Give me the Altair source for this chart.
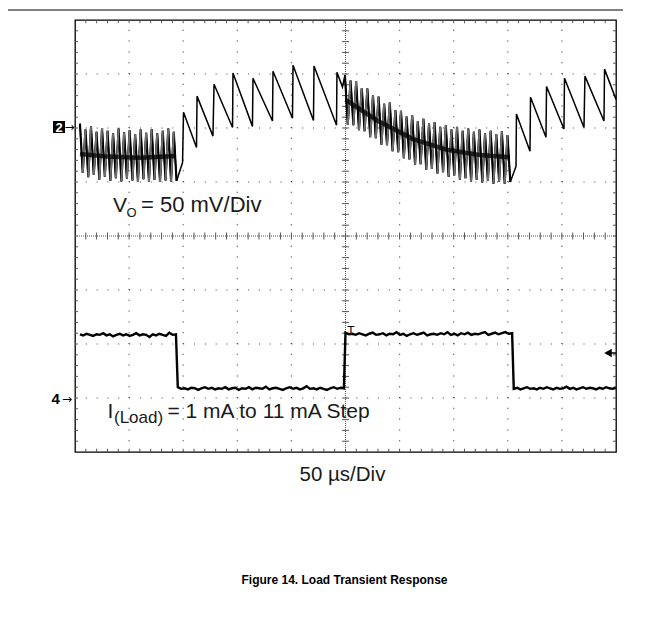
import altair as alt
import pandas as pd

# ---------------- data: time in µs (50 µs/div), amplitude in screen divisions ----------------
# V_O ripple bursts (light load): per-cycle envelope tops / bottoms
left_start_us = 4.6
left_stroke_us = 2.55
left_tops = [6.08, 5.97, 6.03, 5.93, 6.00, 5.95, 5.90, 5.99, 5.92, 5.96, 5.89, 5.97,
             5.91, 5.98, 5.90, 5.95, 5.99, 5.93]
left_bottoms = [5.17, 5.09, 5.13, 5.04, 5.10, 5.02, 5.07, 5.01, 5.06, 5.03, 5.00, 5.05,
                5.01, 5.04, 5.00, 5.03, 5.01, 5.02]

mid_start_us = 249.5
mid_stroke_us = 2.59
mid_tops = [6.98, 6.88, 6.86, 6.74, 6.73, 6.60, 6.58, 6.45, 6.47, 6.33, 6.32, 6.21,
            6.24, 6.13, 6.17, 6.08, 6.11, 6.02, 6.05, 5.97, 6.02, 5.95, 5.99, 5.93,
            5.97, 5.90, 5.95, 5.89, 5.94, 5.87]
mid_bottoms = [6.06, 6.05, 5.96, 5.94, 5.83, 5.81, 5.69, 5.68, 5.57, 5.55, 5.44, 5.42,
               5.32, 5.33, 5.23, 5.24, 5.16, 5.18, 5.10, 5.12, 5.04, 5.07, 5.01, 5.04,
               4.99, 5.02, 4.97, 5.01, 4.97, 5.00]

# dense centre of the bursts
left_center_t = [4.6, 30.0, 60.0, 93.0]
left_center_v = [5.52, 5.47, 5.45, 5.48]
mid_center_t = [250.0, 281.0, 312.0, 343.0, 374.0, 402.0]
mid_center_v = [6.52, 6.12, 5.80, 5.60, 5.50, 5.46]

# V_O sawtooth (heavy load) vertices
saw1_t = [99.4, 100.3, 112.3, 112.8, 127.5, 128.5, 145.6, 146.0, 164.0, 164.5, 182.5,
          183.0, 201.0, 201.5, 220.4, 220.9, 241.7, 242.1, 247.2]
saw1_v = [5.36, 6.29, 5.64, 6.59, 5.85, 6.81, 6.01, 7.02, 6.03, 6.92, 6.13, 7.05, 6.18,
          7.16, 6.14, 7.15, 6.05, 7.03, 6.76]
saw2_t = [407.6, 408.0, 420.5, 421.0, 435.3, 435.8, 451.9, 452.4, 470.4, 471.3, 488.9,
          489.4, 500.0]
saw2_v = [5.29, 6.26, 5.57, 6.57, 5.83, 6.77, 5.98, 6.92, 6.01, 6.96, 6.13, 7.09, 6.53]

# Load current trace: flat segments (start µs, end µs) with the samples read along them
high1_span = (4.6, 93.3)
high1_vals = [2.18, 2.16, 2.19, 2.17, 2.15, 2.18, 2.17, 2.20, 2.16, 2.18, 2.14, 2.17,
              2.19, 2.16, 2.18, 2.15, 2.17, 2.20, 2.16, 2.18, 2.17, 2.13, 2.18, 2.16,
              2.19, 2.17, 2.15, 2.21, 2.17, 2.18]
low1_span = (95.0, 248.5)
low1_vals = [1.20, 1.17, 1.18, 1.16, 1.19, 1.18, 1.15, 1.18, 1.20, 1.17, 1.19, 1.16,
             1.18, 1.17, 1.20, 1.16, 1.18, 1.19, 1.15, 1.18, 1.17, 1.20, 1.16, 1.19,
             1.18, 1.17, 1.21, 1.16, 1.18, 1.19, 1.17, 1.15, 1.18, 1.20, 1.17, 1.19,
             1.16, 1.18, 1.22, 1.17, 1.18, 1.16, 1.19, 1.17, 1.15, 1.18, 1.20, 1.17,
             1.19, 1.18]
high2_span = (250.0, 404.0)
high2_vals = [2.21, 2.18, 2.19, 2.17, 2.20, 2.18, 2.16, 2.19, 2.21, 2.17, 2.18, 2.20,
              2.16, 2.19, 2.18, 2.22, 2.17, 2.19, 2.15, 2.18, 2.20, 2.17, 2.19, 2.21,
              2.16, 2.18, 2.19, 2.17, 2.20, 2.18, 2.22, 2.17, 2.19, 2.16, 2.20, 2.18,
              2.21, 2.17, 2.19, 2.18, 2.20, 2.22, 2.17, 2.19, 2.21, 2.18, 2.20, 2.22,
              2.19, 2.20]
low2_span = (405.5, 500.0)
low2_vals = [1.17, 1.19, 1.16, 1.18, 1.20, 1.17, 1.18, 1.16, 1.19, 1.17, 1.20, 1.18,
             1.16, 1.19, 1.17, 1.18, 1.21, 1.17, 1.19, 1.16, 1.18, 1.20, 1.17, 1.19,
             1.18, 1.16, 1.19, 1.17, 1.20, 1.18, 1.17, 1.19]

# graticule (10 x 8 divisions)
major_t = [50, 100, 150, 200, 300, 350, 400, 450]
major_v = [1, 2, 3, 5, 6, 7]

# ---------------- build tables ----------------
def ripple(start, stroke, tops, bottoms):
    pts = []
    for i, (a, b) in enumerate(zip(tops, bottoms)):
        pts.append((start + 2 * i * stroke, a))
        pts.append((start + (2 * i + 1) * stroke, b))
    return pts


def samples(span, vals):
    a, b = span
    n = len(vals)
    return [(a + (b - a) * k / (n - 1), v) for k, v in enumerate(vals)]


def frame(pts, group="a"):
    return pd.DataFrame({"t": [p[0] for p in pts], "v": [p[1] for p in pts],
                         "i": range(len(pts)), "g": group})


left_pts = ripple(left_start_us, left_stroke_us, left_tops, left_bottoms)
mid_pts = ripple(mid_start_us, mid_stroke_us, mid_tops, mid_bottoms)
vo_pts = left_pts + list(zip(saw1_t, saw1_v)) + mid_pts + list(zip(saw2_t, saw2_v))
vo = frame(vo_pts)
bursts = pd.concat([frame(left_pts, "a"), frame(mid_pts, "b")], ignore_index=True)

up_rows = []
for pts in (left_pts, mid_pts):
    for k in range(1, len(pts) - 1, 2):
        up_rows.append({"t": pts[k][0], "v": pts[k][1], "t2": pts[k + 1][0], "v2": pts[k + 1][1]})
up = pd.DataFrame(up_rows)

centers = pd.DataFrame({"t": left_center_t + mid_center_t,
                        "v": left_center_v + mid_center_v,
                        "g": ["a"] * len(left_center_t) + ["b"] * len(mid_center_t)})

cur_pts = (samples(high1_span, high1_vals) + samples(low1_span, low1_vals)
           + samples(high2_span, high2_vals) + samples(low2_span, low2_vals))
cur = frame(cur_pts)

vgrid = pd.DataFrame({"t": major_t, "v": 0, "t2": major_t, "v2": 8})
hgrid = pd.DataFrame({"t": 0, "v": major_v, "t2": 500, "v2": major_v})
center_lines = pd.DataFrame({"t": [250, 0], "v": [0, 4], "t2": [250, 500], "v2": [8, 4]})

minor_t = [10 * k for k in range(1, 50)]
minor_v = [0.2 * k for k in range(1, 40)]
tick_rows = []
for t in minor_t:
    tick_rows.append({"t": t, "v": 4 - 0.065, "t2": t, "v2": 4 + 0.065})
    tick_rows.append({"t": t, "v": 8, "t2": t, "v2": 8 - 0.06})
    tick_rows.append({"t": t, "v": 0, "t2": t, "v2": 0.06})
for v in minor_v:
    tick_rows.append({"t": 250 - 3.2, "v": v, "t2": 250 + 3.2, "v2": v})
    tick_rows.append({"t": 0, "v": v, "t2": 2.8, "v2": v})
    tick_rows.append({"t": 500, "v": v, "t2": 497.2, "v2": v})
ticks = pd.DataFrame(tick_rows)

one = pd.DataFrame({"k": [0]})

# ---------------- encodings ----------------
xs = alt.Scale(domain=[0, 500], nice=False, zero=False)
ys = alt.Scale(domain=[0, 8], nice=False, zero=False)
X = alt.X("t:Q", scale=xs, axis=None)
Y = alt.Y("v:Q", scale=ys, axis=None)
X2 = alt.X2("t2:Q")
Y2 = alt.Y2("v2:Q")

FONT = "Liberation Sans"
INK = "#1a1a1a"

layers = []
layers.append(alt.Chart(vgrid).mark_rule(color="#444", strokeWidth=1.2, strokeDash=[1, 9.8])
              .encode(x=X, y=Y, x2=X2, y2=Y2))
layers.append(alt.Chart(hgrid).mark_rule(color="#444", strokeWidth=1.2, strokeDash=[1, 9.82])
              .encode(x=X, y=Y, x2=X2, y2=Y2))
layers.append(alt.Chart(center_lines).mark_rule(color="#555", strokeWidth=1, strokeDash=[1, 1])
              .encode(x=X, y=Y, x2=X2, y2=Y2))
layers.append(alt.Chart(ticks).mark_rule(color="#555", strokeWidth=1)
              .encode(x=X, y=Y, x2=X2, y2=Y2))

# V_O trace
layers.append(alt.Chart(vo).mark_line(color="black", strokeWidth=1.5)
              .encode(x=X, y=Y, order="i:Q"))
layers.append(alt.Chart(bursts).mark_line(color="black", strokeWidth=2.1)
              .encode(x=X, y=Y, order="i:Q", detail="g:N"))
layers.append(alt.Chart(up).mark_rule(color="#6e6e6e", strokeWidth=2.0)
              .encode(x=X, y=Y, x2=X2, y2=Y2))
layers.append(alt.Chart(centers).mark_line(color="black", strokeWidth=4.5, opacity=0.75)
              .encode(x=X, y=Y, detail="g:N"))
# load current trace
layers.append(alt.Chart(cur).mark_line(color="black", strokeWidth=2.4)
              .encode(x=X, y=Y, order="i:Q"))


def label(text, x, y, size=21, weight="normal", align="left", baseline="alphabetic",
          color=INK, font=FONT):
    return alt.Chart(one).mark_text(text=text, fontSize=size, fontWeight=weight, align=align,
                                    baseline=baseline, color=color, font=font).encode(
        x=alt.value(x), y=alt.value(y))


# top rule of the page
layers.append(alt.Chart(one).mark_rule(color="black", strokeWidth=1.2)
              .encode(x=alt.value(-67), x2=alt.value(548), y=alt.value(-10)))

# channel markers
layers.append(alt.Chart(one).mark_square(size=145, color="black", opacity=1)
              .encode(x=alt.value(-16), y=alt.value(107)))
layers.append(label("2", -16, 107.5, size=13, weight="bold", align="center",
                    baseline="middle", color="white"))
layers.append(label("→", -10.5, 107, size=12, baseline="middle", color="black",
                    font="DejaVu Sans"))
layers.append(label("4", -23.5, 379, size=15, weight="bold", baseline="middle", color="black"))
layers.append(label("→", -13, 379, size=12, baseline="middle", color="black",
                    font="DejaVu Sans"))
# trigger markers
layers.append(alt.Chart(one).mark_point(shape="triangle-left", filled=True, size=75,
                                        color="black", opacity=1)
              .encode(x=alt.value(533), y=alt.value(333)))
layers.append(alt.Chart(one).mark_rule(color="black", strokeWidth=1.5)
              .encode(x=alt.value(535), x2=alt.value(541), y=alt.value(333)))
layers.append(label("T", 276, 314.5, size=12, align="center", color="black"))

# annotations
layers.append(label("V", 38, 192))
layers.append(label("O", 51.5, 197, size=13))
layers.append(label("= 50 mV/Div", 66, 192, size=22))
layers.append(label("I", 32.5, 398))
layers.append(label("(Load)", 39, 403, size=17))
layers.append(label("= 1 mA to 11 mA Step", 92.5, 398))
layers.append(label("50 µs/Div", 267.5, 461, size=20.5, align="center"))
layers.append(label("Figure 14. Load Transient Response", 269.5, 564, size=12,
                    weight="bold", align="center", color="black"))

chart = alt.layer(*layers).properties(
    width=541, height=432,
    padding={"left": 67, "top": 12, "right": 30, "bottom": 180},
    autosize=alt.AutoSizeParams(type="none"),
    background="white",
).configure_view(stroke="black", strokeWidth=1.3)

chart.save("out.html", embed_options={"renderer": "svg", "actions": False})
